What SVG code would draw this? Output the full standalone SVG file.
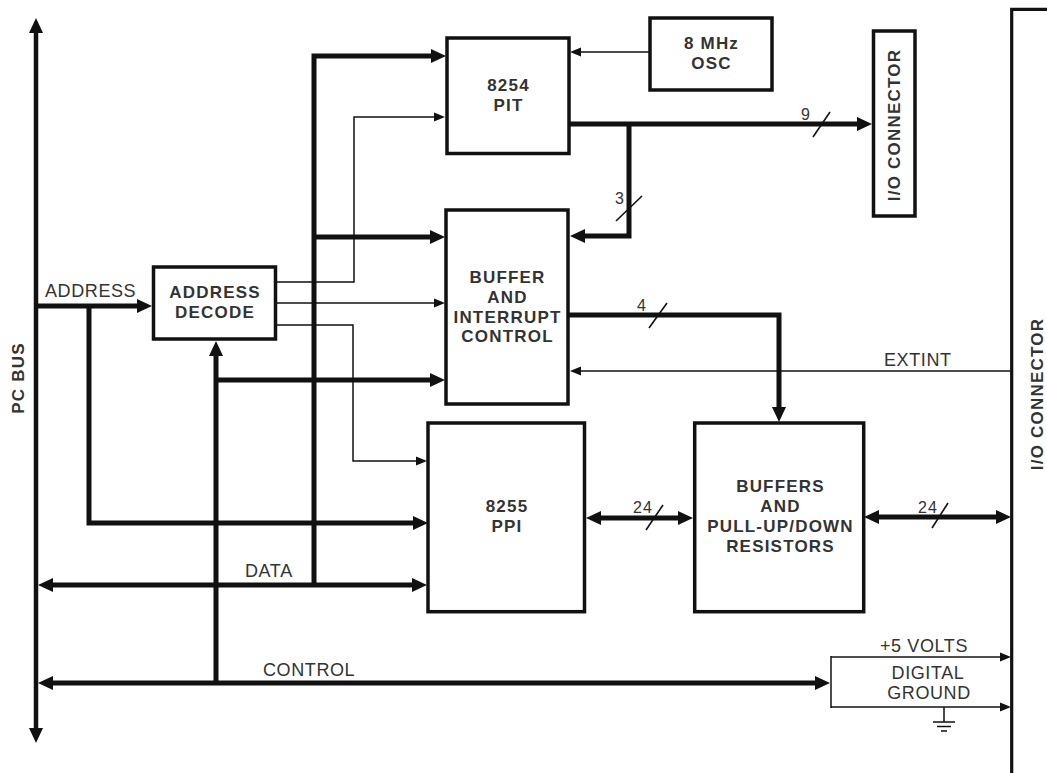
<svg xmlns="http://www.w3.org/2000/svg" width="1047" height="773" viewBox="0 0 1047 773">
<style>
  .box { fill: #fff; stroke: #111; stroke-width: 3.5; }
  .thick { fill: none; stroke: #111; stroke-width: 5; }
  .bus { fill: none; stroke: #111; stroke-width: 4.5; }
  .thin { fill: none; stroke: #111; stroke-width: 1.5; }
  .slash { fill: none; stroke: #111; stroke-width: 1.6; }
  .bl { font-family: "Liberation Sans", Arial, sans-serif; font-weight: bold; font-size: 17px; letter-spacing: 1.2px; fill: #333; text-anchor: middle; }
  .lb { font-family: "Liberation Sans", Arial, sans-serif; font-size: 18px; letter-spacing: 0.6px; fill: #333; }
  .num { font-family: "Liberation Sans", Arial, sans-serif; font-size: 16px; letter-spacing: 1px; fill: #333; }
</style>
<defs>
  <marker id="ah" markerUnits="userSpaceOnUse" markerWidth="16" markerHeight="14" refX="5" refY="7" orient="auto-start-reverse" overflow="visible">
    <path d="M0,0 L15,7 L0,14 z" fill="#111"/>
  </marker>
  <marker id="at" markerUnits="userSpaceOnUse" markerWidth="12" markerHeight="10" refX="3" refY="4.5" orient="auto-start-reverse" overflow="visible">
    <path d="M0,0 L11,4.5 L0,9 z" fill="#111"/>
  </marker>
</defs>
<rect width="1047" height="773" fill="#fff"/>

<g id="connectors">
  <!-- PC bus -->
  <path class="bus" d="M36,28 V733" marker-start="url(#ah)" marker-end="url(#ah)"/>
  <!-- address -->
  <path class="thick" d="M36,306 H142" marker-end="url(#ah)"/>
  <path class="thick" d="M89,306 V523 H418" marker-end="url(#ah)"/>
  <!-- data -->
  <path class="thick" d="M48,585 H417" marker-start="url(#ah)" marker-end="url(#ah)"/>
  <path class="thick" d="M314,585 V56 H436" marker-end="url(#ah)"/>
  <path class="thick" d="M314,237 H435" marker-end="url(#ah)"/>
  <!-- control -->
  <path class="thick" d="M48,683 H820" marker-start="url(#ah)" marker-end="url(#ah)"/>
  <path class="thick" d="M216,683 V351" marker-end="url(#ah)"/>
  <path class="thick" d="M216,380 H435" marker-end="url(#ah)"/>
  <!-- decode outputs -->
  <path class="thin" d="M277,282 H354 V117 H437" marker-end="url(#at)"/>
  <path class="thin" d="M277,303 H437" marker-end="url(#at)"/>
  <path class="thin" d="M277,325 H353 V461 H419" marker-end="url(#at)"/>
  <!-- osc to pit -->
  <path class="thin" d="M650,52 H578" marker-end="url(#at)"/>
  <!-- pit outputs -->
  <path class="thick" d="M569,124 H862" marker-end="url(#ah)"/>
  <path class="thick" d="M629,124 V236 H580" marker-end="url(#ah)"/>
  <!-- buffer/interrupt to buffers -->
  <path class="thick" d="M569,315 H779 V412" marker-end="url(#ah)"/>
  <!-- extint -->
  <path class="thin" d="M1011,371 H578" marker-end="url(#at)"/>
  <!-- 24 bit buses -->
  <path class="thick" d="M596,518 H683" marker-start="url(#ah)" marker-end="url(#ah)"/>
  <path class="thick" d="M874,517 H1001" marker-start="url(#ah)" marker-end="url(#ah)"/>
  <!-- +5V and ground -->
  <path class="thin" d="M831,657 H1003" stroke-width="2" marker-end="url(#at)"/>
  <path class="thin" d="M831,707 H1003" stroke-width="2" marker-end="url(#at)"/>
  <!-- bus width slashes -->
  <path class="slash" d="M813,137 L830,112"/>
  <path class="slash" d="M616,221 L642,196"/>
  <path class="slash" d="M649,328 L667,303"/>
  <path class="slash" d="M646,530 L663,505"/>
  <path class="slash" d="M932,528 L948,503"/>
  <!-- labels -->
  <text class="lb" x="45" y="297">ADDRESS</text>
  <text class="lb" x="245" y="577">DATA</text>
  <text class="lb" x="263" y="676">CONTROL</text>
  <text class="lb" x="884" y="366">EXTINT</text>
  <text class="lb" x="880" y="652">+5 VOLTS</text>
  <text class="num" x="801" y="120">9</text>
  <text class="num" x="615" y="204">3</text>
  <text class="num" x="637" y="311">4</text>
  <text class="num" x="633" y="513">24</text>
  <text class="num" x="918" y="513">24</text>
</g>

<g id="pc-bus">
  <text class="bl" transform="translate(24,378) rotate(-90)">PC BUS</text>
</g>

<g id="address-decode">
  <rect class="box" x="153.5" y="267" width="122" height="72"/>
  <text class="bl" x="215" y="298">ADDRESS</text>
  <text class="bl" x="215" y="318">DECODE</text>
</g>

<g id="pit-8254">
  <rect class="box" x="447" y="38" width="122" height="115.5"/>
  <text class="bl" x="508.5" y="91">8254</text>
  <text class="bl" x="508.5" y="111">PIT</text>
</g>

<g id="osc">
  <rect class="box" x="650" y="18" width="122" height="72"/>
  <text class="bl" x="711.5" y="49">8 MHz</text>
  <text class="bl" x="711.5" y="69">OSC</text>
</g>

<g id="io-connector-small">
  <rect class="box" x="873.5" y="31" width="41.5" height="185"/>
  <text class="bl" transform="translate(900,125) rotate(-90)">I/O CONNECTOR</text>
</g>

<g id="buffer-interrupt">
  <rect class="box" x="446" y="210" width="122" height="194"/>
  <text class="bl" x="507.5" y="283">BUFFER</text>
  <text class="bl" x="507.5" y="303">AND</text>
  <text class="bl" x="507.5" y="323">INTERRUPT</text>
  <text class="bl" x="507.5" y="342">CONTROL</text>
</g>

<g id="ppi-8255">
  <rect class="box" x="428" y="423" width="156.5" height="188.7"/>
  <text class="bl" x="507" y="512">8255</text>
  <text class="bl" x="507" y="532">PPI</text>
</g>

<g id="buffers-resistors">
  <rect class="box" x="694.7" y="423" width="169" height="188.7"/>
  <text class="bl" x="780.5" y="492">BUFFERS</text>
  <text class="bl" x="780.5" y="512">AND</text>
  <text class="bl" x="780.5" y="532">PULL-UP/DOWN</text>
  <text class="bl" x="780.5" y="552">RESISTORS</text>
</g>

<g id="digital-ground">
  <path class="thin" stroke-width="2" d="M831,656 V708"/>
  <text class="lb" x="928" y="679" text-anchor="middle">DIGITAL</text>
  <text class="lb" x="929" y="699" text-anchor="middle">GROUND</text>
  <path class="thin" d="M944,707 V722 M933,722 H955 M937,726.5 H951 M941,731 H947"/>
</g>

<g id="io-connector-main">
  <path d="M1060,9.3 H1011.7 V790" fill="none" stroke="#111" stroke-width="3.2"/>
  <text class="bl" transform="translate(1043,394) rotate(-90)">I/O CONNECTOR</text>
</g>
</svg>
